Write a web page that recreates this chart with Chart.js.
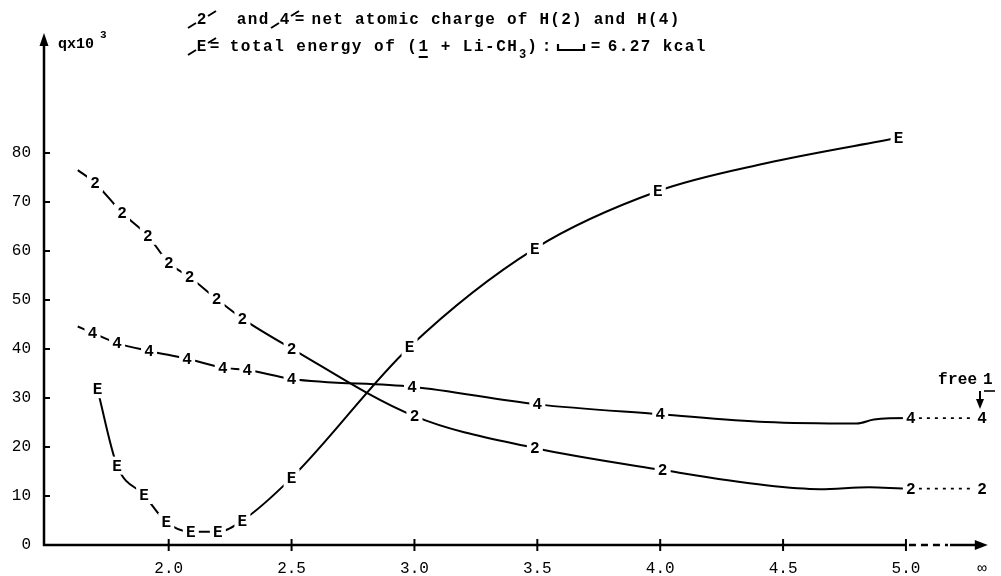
<!DOCTYPE html>
<html><head><meta charset="utf-8">
<script src="https://cdn.jsdelivr.net/npm/chart.js@4"></script>
<style>html,body{margin:0;padding:0;background:#fff;}#wrap{width:1001px;height:576px;}</style>
</head><body><div id="wrap"><canvas id="c" width="1001" height="576"></canvas></div>
<script>
// ---- data ----
const yTickValues = [0, 10, 20, 30, 40, 50, 60, 70, 80];
const xTickValues = [2.0, 2.5, 3.0, 3.5, 4.0, 4.5, 5.0, 5.31];
const xTickLabels = ['2.0', '2.5', '3.0', '3.5', '4.0', '4.5', '5.0', '\u221E'];

// H(2) net atomic charge (q x 10^3)
const x2 = [1.63, 1.70, 1.81, 1.915, 2.0, 2.085, 2.195, 2.30, 2.50, 3.0, 3.49, 4.01, 4.43, 4.65, 4.85, 5.02, 5.31];
const y2 = [76.5, 73.9, 67.8, 63.1, 57.6, 54.7, 50.2, 46.2, 40.1, 26.3, 19.8, 15.3, 12.2, 11.4, 11.8, 11.5, 11.5];
const m2 = ['', '2', '2', '2', '2', '2', '2', '2', '2', '2', '2', '2', '', '', '', '2', '2'];

// H(4) net atomic charge (q x 10^3)
const x4 = [1.63, 1.69, 1.79, 1.92, 2.075, 2.22, 2.32, 2.50, 2.99, 3.50, 4.0, 4.43, 4.80, 4.87, 5.02, 5.31];
const y4 = [44.6, 43.3, 41.2, 39.6, 38.0, 36.2, 35.7, 33.9, 32.3, 28.7, 26.7, 25.1, 24.8, 25.6, 25.9, 25.9];
const m4 = ['', '4', '4', '4', '4', '4', '4', '4', '4', '4', '4', '', '', '', '4', '4'];

// total energy E (scale bar = 6.27 kcal)
const xE = [1.71, 1.79, 1.90, 1.99, 2.09, 2.20, 2.30, 2.50, 2.98, 3.49, 3.99, 4.43, 4.97];
const yE = [31.8, 16.2, 10.2, 4.7, 2.7, 2.7, 5.0, 13.7, 40.4, 60.5, 72.2, 77.9, 83.1];
const mE = ['E', 'E', 'E', 'E', 'E', 'E', 'E', 'E', 'E', 'E', 'E', '', 'E'];

const FONT = '"Liberation Mono", "DejaVu Sans Mono", monospace';

function pts(xs, ys) { return xs.map((x, i) => ({ x: x, y: ys[i] })); }
const dotted = c => (c.p0.parsed.x >= 5 ? [3, 5] : undefined);
const segW = c => (c.p0.parsed.x >= 5 ? 1.6 : 2);

function makeSet(xs, ys, marks) {
  return {
    data: pts(xs, ys), marks: marks,
    borderColor: '#000', borderWidth: 2, pointRadius: 0, pointHoverRadius: 0,
    cubicInterpolationMode: 'monotone', fill: false, clip: false,
    segment: { borderDash: dotted, borderWidth: segW }
  };
}

function mono(ctx, s, x, y, adv) {
  for (let i = 0; i < s.length; i++) ctx.fillText(s[i], x + i * adv + adv / 2, y);
}
function curveMark(ctx, cx, cy) {
  ctx.beginPath();
  ctx.moveTo(cx - 14, cy + 8); ctx.lineTo(cx - 6, cy + 3);
  ctx.moveTo(cx + 6, cy - 4); ctx.lineTo(cx + 14, cy - 9);
  ctx.stroke();
}

const deco = {
  id: 'deco',
  beforeDatasetsDraw(chart) {
    const { ctx, scales: { x, y } } = chart;
    const x0 = x.left, y0 = y.getPixelForValue(0);
    const yTop = y.top, x5 = x.getPixelForValue(5.0), xEnd = x.right;
    ctx.save();
    ctx.strokeStyle = '#000'; ctx.fillStyle = '#000'; ctx.lineWidth = 2.5; ctx.lineCap = 'butt';
    // y axis with arrow
    ctx.beginPath(); ctx.moveTo(x0, y0 + 1); ctx.lineTo(x0, yTop + 10); ctx.stroke();
    ctx.beginPath(); ctx.moveTo(x0, yTop); ctx.lineTo(x0 - 4.5, yTop + 13); ctx.lineTo(x0 + 4.5, yTop + 13); ctx.closePath(); ctx.fill();
    // x axis: solid up to 5.0
    ctx.beginPath(); ctx.moveTo(x0 - 1, y0); ctx.lineTo(x5, y0); ctx.stroke();
    // dashed break towards infinity
    ctx.setLineDash([7, 5]);
    ctx.beginPath(); ctx.moveTo(x5 + 3, y0); ctx.lineTo(x5 + 42, y0); ctx.stroke();
    ctx.setLineDash([]);
    ctx.beginPath(); ctx.moveTo(x5 + 44, y0); ctx.lineTo(xEnd - 10, y0); ctx.stroke();
    ctx.beginPath(); ctx.moveTo(xEnd, y0); ctx.lineTo(xEnd - 13, y0 - 5); ctx.lineTo(xEnd - 13, y0 + 5); ctx.closePath(); ctx.fill();
    // tick marks
    ctx.lineWidth = 2;
    y.ticks.forEach(t => {
      if (t.value === 0) return;
      const py = y.getPixelForValue(t.value);
      ctx.beginPath(); ctx.moveTo(x0 - 1, py); ctx.lineTo(x0 + 6, py); ctx.stroke();
    });
    x.ticks.forEach(t => {
      if (t.value > 5.05) return;
      const px = x.getPixelForValue(t.value);
      ctx.beginPath(); ctx.moveTo(px, y0 - 6); ctx.lineTo(px, y0 + 6); ctx.stroke();
    });
    ctx.restore();
  },
  afterDatasetsDraw(chart) {
    const { ctx } = chart;
    chart.data.datasets.forEach((ds, di) => {
      const meta = chart.getDatasetMeta(di);
      meta.data.forEach((pt, i) => {
        const t = ds.marks[i];
        if (!t) return;
        ctx.save();
        ctx.fillStyle = '#fff';
        ctx.fillRect(pt.x - 8, pt.y - 9, 16, 18);
        ctx.fillStyle = '#000';
        ctx.font = 'bold 16px ' + FONT;
        ctx.textAlign = 'center'; ctx.textBaseline = 'middle';
        ctx.fillText(t, pt.x, pt.y + 1);
        ctx.restore();
      });
    });
  },
  afterDraw(chart) {
    const { ctx } = chart;
    ctx.save();
    ctx.fillStyle = '#000'; ctx.strokeStyle = '#000'; ctx.lineWidth = 2;
    ctx.textAlign = 'center'; ctx.textBaseline = 'middle';
    ctx.font = 'bold 16px ' + FONT;
    const adv = 11;
    // legend line 1
    const l1 = 20;
    mono(ctx, '2', 196, l1, adv); curveMark(ctx, 202, l1);
    mono(ctx, 'and', 236, l1, adv);
    mono(ctx, '4', 279, l1, adv); curveMark(ctx, 285, l1);
    mono(ctx, '=', 294, l1, adv);
    mono(ctx, 'net atomic charge of H(2) and H(4)', 311, l1, 10.85);
    // legend line 2
    const l2 = 47;
    mono(ctx, 'E', 196, l2, adv); curveMark(ctx, 202, l2);
    mono(ctx, '=', 209, l2, adv);
    const s2 = 'total energy of (1 + Li-CH';
    mono(ctx, s2, 229, l2, 11.1);
    const i1 = s2.indexOf('1');
    ctx.beginPath(); ctx.moveTo(229 + i1 * 11.1 + 1, l2 + 10); ctx.lineTo(229 + (i1 + 1) * 11.1 - 1, l2 + 10); ctx.stroke();
    const endCH = 229 + s2.length * 11.1;
    ctx.font = 'bold 12px ' + FONT;
    ctx.fillText('3', endCH + 5, l2 + 8);
    ctx.font = 'bold 16px ' + FONT;
    mono(ctx, ')', endCH + 9, l2, adv);
    mono(ctx, ':', 541, l2, adv);
    // scale bar symbol
    ctx.lineWidth = 2.2;
    ctx.beginPath(); ctx.moveTo(558, l2 - 3); ctx.lineTo(558, l2 + 3); ctx.lineTo(584, l2 + 3); ctx.lineTo(584, l2 - 3); ctx.stroke();
    mono(ctx, '=', 590, l2, adv);
    mono(ctx, '6.27', 607, l2, 11);
    mono(ctx, 'kcal', 662, l2, 11);
    // y axis title
    ctx.font = 'bold 15px ' + FONT;
    ctx.textAlign = 'left';
    ctx.fillText('qx10', 58, 44);
    ctx.font = 'bold 11px ' + FONT;
    ctx.fillText('3', 100, 35);
    // free 1
    ctx.font = 'bold 16px ' + FONT;
    ctx.textAlign = 'center';
    mono(ctx, 'free', 938, 380, 9.8);
    mono(ctx, '1', 983, 380, 9.8);
    ctx.lineWidth = 1.6;
    ctx.beginPath(); ctx.moveTo(984, 391); ctx.lineTo(995, 391); ctx.stroke();
    const ax = 980;
    ctx.lineWidth = 2;
    ctx.beginPath(); ctx.moveTo(ax, 391); ctx.lineTo(ax, 401); ctx.stroke();
    ctx.beginPath(); ctx.moveTo(ax, 409); ctx.lineTo(ax - 4, 399); ctx.lineTo(ax + 4, 399); ctx.closePath(); ctx.fill();
    ctx.restore();
  }
};

Chart.defaults.font.family = FONT;
Chart.defaults.color = '#000';

new Chart(document.getElementById('c'), {
  type: 'line',
  data: { datasets: [makeSet(x2, y2, m2), makeSet(x4, y4, m4), makeSet(xE, yE, mE)] },
  options: {
    responsive: false, animation: false, devicePixelRatio: 1,
    layout: { padding: { top: 33, right: 11, left: 0, bottom: 0 } },
    plugins: { legend: { display: false }, tooltip: { enabled: false } },
    scales: {
      x: {
        type: 'linear', min: 1.4926, max: 5.333,
        border: { display: false }, grid: { display: false, drawTicks: false },
        afterBuildTicks: s => { s.ticks = xTickValues.map(v => ({ value: v })); },
        afterFit: s => { s.height = 31; },
        ticks: {
          padding: 14, font: { size: 16 }, color: '#000', autoSkip: false, maxRotation: 0,
          callback: (v) => { const i = xTickValues.indexOf(v); return i >= 0 ? xTickLabels[i] : ''; }
        }
      },
      y: {
        type: 'linear', min: 0, max: 104.49,
        border: { display: false }, grid: { display: false, drawTicks: false },
        afterBuildTicks: s => { s.ticks = yTickValues.map(v => ({ value: v })); },
        afterFit: s => { s.width = 44; },
        ticks: { padding: 13, font: { size: 16 }, color: '#000', callback: v => String(v) }
      }
    }
  },
  plugins: [deco]
});
</script>
</body></html>
